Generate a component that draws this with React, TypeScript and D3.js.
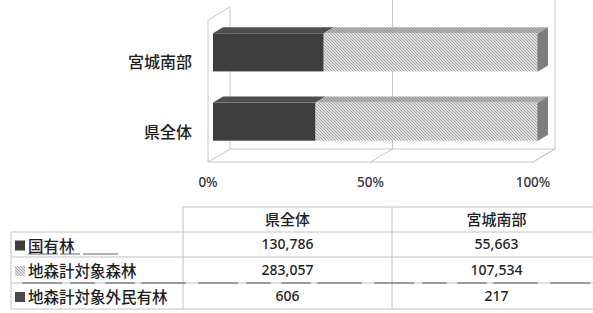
import React, { useRef, useEffect } from 'react';
import * as d3 from 'd3';

// 地域（表の列順）
const areas = ['県全体', '宮城南部'];
// グラフでは上から宮城南部、県全体
const chartOrder = ['宮城南部', '県全体'];
const seriesNames = ['国有林', '地森計対象森林', '地森計対象外民有林'];
const kokuyurin = [130786, 55663];
const chimoriTaisho = [283057, 107534];
const chimoriTaishogai = [606, 217];
const percentTicks = [0, 0.5, 1];

const FONT = "'Noto Sans', 'Noto Sans CJK JP', sans-serif";

export default function App() {
  const svgRef = useRef<SVGSVGElement>(null);

  useEffect(() => {
    if (!svgRef.current) return;
    const svg = d3.select(svgRef.current);
    svg.selectAll('*').remove();

    const defs = svg.append('defs');
    const makeHatch = (id: string, bg: string, fg: string) => {
      const p = defs
        .append('pattern')
        .attr('id', id)
        .attr('patternUnits', 'userSpaceOnUse')
        .attr('width', 3)
        .attr('height', 3);
      p.append('rect').attr('width', 3).attr('height', 3).attr('fill', bg);
      p.append('path')
        .attr('d', 'M-1,-1 L4,4 M2,-1 L4,1 M-1,2 L1,4')
        .attr('stroke', fg)
        .attr('stroke-width', 0.7);
    };
    makeHatch('hatch', '#dedede', '#8e8e8e');
    makeHatch('hatchTop', '#b4b4b4', '#858585');

    const x = d3.scaleLinear().domain([0, 1]).range([208, 533]);
    const y = d3
      .scaleBand()
      .domain(chartOrder)
      .range([16, 158])
      .paddingInner(0.45)
      .paddingOuter(0.25);

    const floorY = 162;
    const DX = 22;
    const DY = -13;

    // 壁・床
    const wall = svg
      .append('g')
      .attr('fill', 'none')
      .attr('stroke', '#c6c6c6')
      .attr('stroke-width', 1);
    wall
      .append('path')
      .attr(
        'd',
        `M${x(0)},20 L${x(0)},${floorY} L${x(1)},${floorY} L${x(1) + DX},${floorY + DY} L${x(0) + DX},${floorY + DY} L${x(0) + DX},7 Z`
      );
    wall
      .append('path')
      .attr('d', `M${x(0)},${floorY} L${x(0) + DX},${floorY + DY}`);
    percentTicks
      .filter((t) => t > 0)
      .forEach((t) => {
        wall
          .append('path')
          .attr(
            'd',
            `M${x(t)},${floorY} L${x(t) + DX},${floorY + DY} L${x(t) + DX},0`
          );
      });

    // 100%積み上げ
    const rows = areas.map((a, i) => ({
      area: a,
      s0: kokuyurin[i],
      s1: chimoriTaisho[i],
      s2: chimoriTaishogai[i],
    }));
    const stacked = d3
      .stack<any>()
      .keys(['s0', 's1', 's2'])
      .offset(d3.stackOffsetExpand)(rows);

    const frontFill = ['#3e3e3e', 'url(#hatch)', '#4a4a4a'];
    const topFill = ['#4e4e4e', 'url(#hatchTop)', '#5e5e5e'];
    const bx = (v: number) => x(v) + 5;
    const bdx = 10;
    const bdy = -6;
    const h = y.bandwidth();

    const bars = svg.append('g');
    chartOrder.forEach((area) => {
      const yy = y(area) as number;
      stacked.forEach((layer, k) => {
        const d = layer.find((e: any) => e.data.area === area)!;
        const x0 = bx(d[0]);
        const x1 = bx(d[1]);
        bars
          .append('rect')
          .attr('x', x0)
          .attr('y', yy)
          .attr('width', Math.max(0, x1 - x0))
          .attr('height', h)
          .attr('fill', frontFill[k]);
        bars
          .append('path')
          .attr(
            'd',
            `M${x0},${yy} L${x1},${yy} L${x1 + bdx},${yy + bdy} L${x0 + bdx},${yy + bdy} Z`
          )
          .attr('fill', topFill[k]);
        if (k === stacked.length - 1) {
          bars
            .append('path')
            .attr(
              'd',
              `M${x1},${yy} L${x1 + bdx},${yy + bdy} L${x1 + bdx},${yy + h + bdy} L${x1},${yy + h} Z`
            )
            .attr('fill', '#7e7e7e');
        }
      });
    });

    // カテゴリラベル
    svg
      .append('g')
      .selectAll('text')
      .data(chartOrder)
      .join('text')
      .attr('x', 192)
      .attr('y', (d) => (y(d) as number) + h / 2 + 10)
      .attr('text-anchor', 'end')
      .attr('dominant-baseline', 'central')
      .attr('font-family', FONT)
      .attr('font-size', 16)
      .attr('font-weight', 500)
      .attr('fill', '#1e1e1e')
      .text((d) => d);

    // 目盛ラベル
    svg
      .append('g')
      .selectAll('text')
      .data(percentTicks)
      .join('text')
      .attr('x', (d) => x(d))
      .attr('y', 182)
      .attr('text-anchor', 'middle')
      .attr('dominant-baseline', 'central')
      .attr('font-family', FONT)
      .attr('font-size', 13.5)
      .attr('font-weight', 500)
      .attr('fill', '#333')
      .text((d) => d3.format('.0%')(d));

    // データテーブル
    const colX = [11, 183, 392, 601];
    const rowY = [207, 232, 257, 283, 309];
    const table = svg.append('g');
    const lines = table
      .append('g')
      .attr('stroke', '#c2c2c2')
      .attr('stroke-width', 1);
    lines
      .append('line')
      .attr('x1', colX[1])
      .attr('x2', 593)
      .attr('y1', rowY[0])
      .attr('y2', rowY[0]);
    rowY.slice(1).forEach((ry) => {
      lines
        .append('line')
        .attr('x1', colX[0])
        .attr('x2', 593)
        .attr('y1', ry)
        .attr('y2', ry);
    });
    lines
      .append('line')
      .attr('x1', colX[0])
      .attr('x2', colX[0])
      .attr('y1', rowY[1])
      .attr('y2', rowY[4]);
    [colX[1], colX[2]].forEach((cx) => {
      lines
        .append('line')
        .attr('x1', cx)
        .attr('x2', cx)
        .attr('y1', rowY[0])
        .attr('y2', rowY[4]);
    });

    // スキャンの破線
    table
      .append('line')
      .attr('x1', 28)
      .attr('x2', 118)
      .attr('y1', 254)
      .attr('y2', 254)
      .attr('stroke', '#666')
      .attr('stroke-dasharray', '30 2 20 3 35');
    table
      .append('line')
      .attr('x1', 22)
      .attr('x2', 593)
      .attr('y1', 283)
      .attr('y2', 283)
      .attr('stroke', '#555')
      .attr('stroke-dasharray', '40 8 25 10 30 6 45 12');

    const colCenter = (i: number) => (colX[i + 1] + colX[i + 2]) / 2;
    table
      .append('g')
      .selectAll('text')
      .data(areas)
      .join('text')
      .attr('x', (_, i) => colCenter(i))
      .attr('y', 219)
      .attr('text-anchor', 'middle')
      .attr('dominant-baseline', 'central')
      .attr('font-family', FONT)
      .attr('font-size', 15)
      .attr('font-weight', 500)
      .attr('fill', '#1e1e1e')
      .text((d) => d);

    const seriesValues = [kokuyurin, chimoriTaisho, chimoriTaishogai];
    const keyFill = ['#3e3e3e', 'url(#hatch)', '#4a4a4a'];
    seriesNames.forEach((name, k) => {
      const cy = (rowY[k + 1] + rowY[k + 2]) / 2 + 1;
      table
        .append('rect')
        .attr('x', 15)
        .attr('y', cy - 5)
        .attr('width', 10)
        .attr('height', 10)
        .attr('fill', keyFill[k]);
      table
        .append('text')
        .attr('x', 28)
        .attr('y', cy)
        .attr('dominant-baseline', 'central')
        .attr('font-family', FONT)
        .attr('font-size', 15.5)
        .attr('font-weight', 500)
        .attr('fill', '#1e1e1e')
        .text(name);
      seriesValues[k].forEach((v, i) => {
        table
          .append('text')
          .attr('x', colCenter(i))
          .attr('y', cy - 2)
          .attr('text-anchor', 'middle')
          .attr('dominant-baseline', 'central')
          .attr('font-family', FONT)
          .attr('font-size', 14)
          .attr('font-weight', 500)
          .attr('fill', '#1e1e1e')
          .text(d3.format(',')(v));
      });
    });
  }, []);

  return (
    <svg
      ref={svgRef}
      width={593}
      height={313}
      style={{ position: 'absolute', left: 0, top: 0, background: '#fff' }}
    />
  );
}
